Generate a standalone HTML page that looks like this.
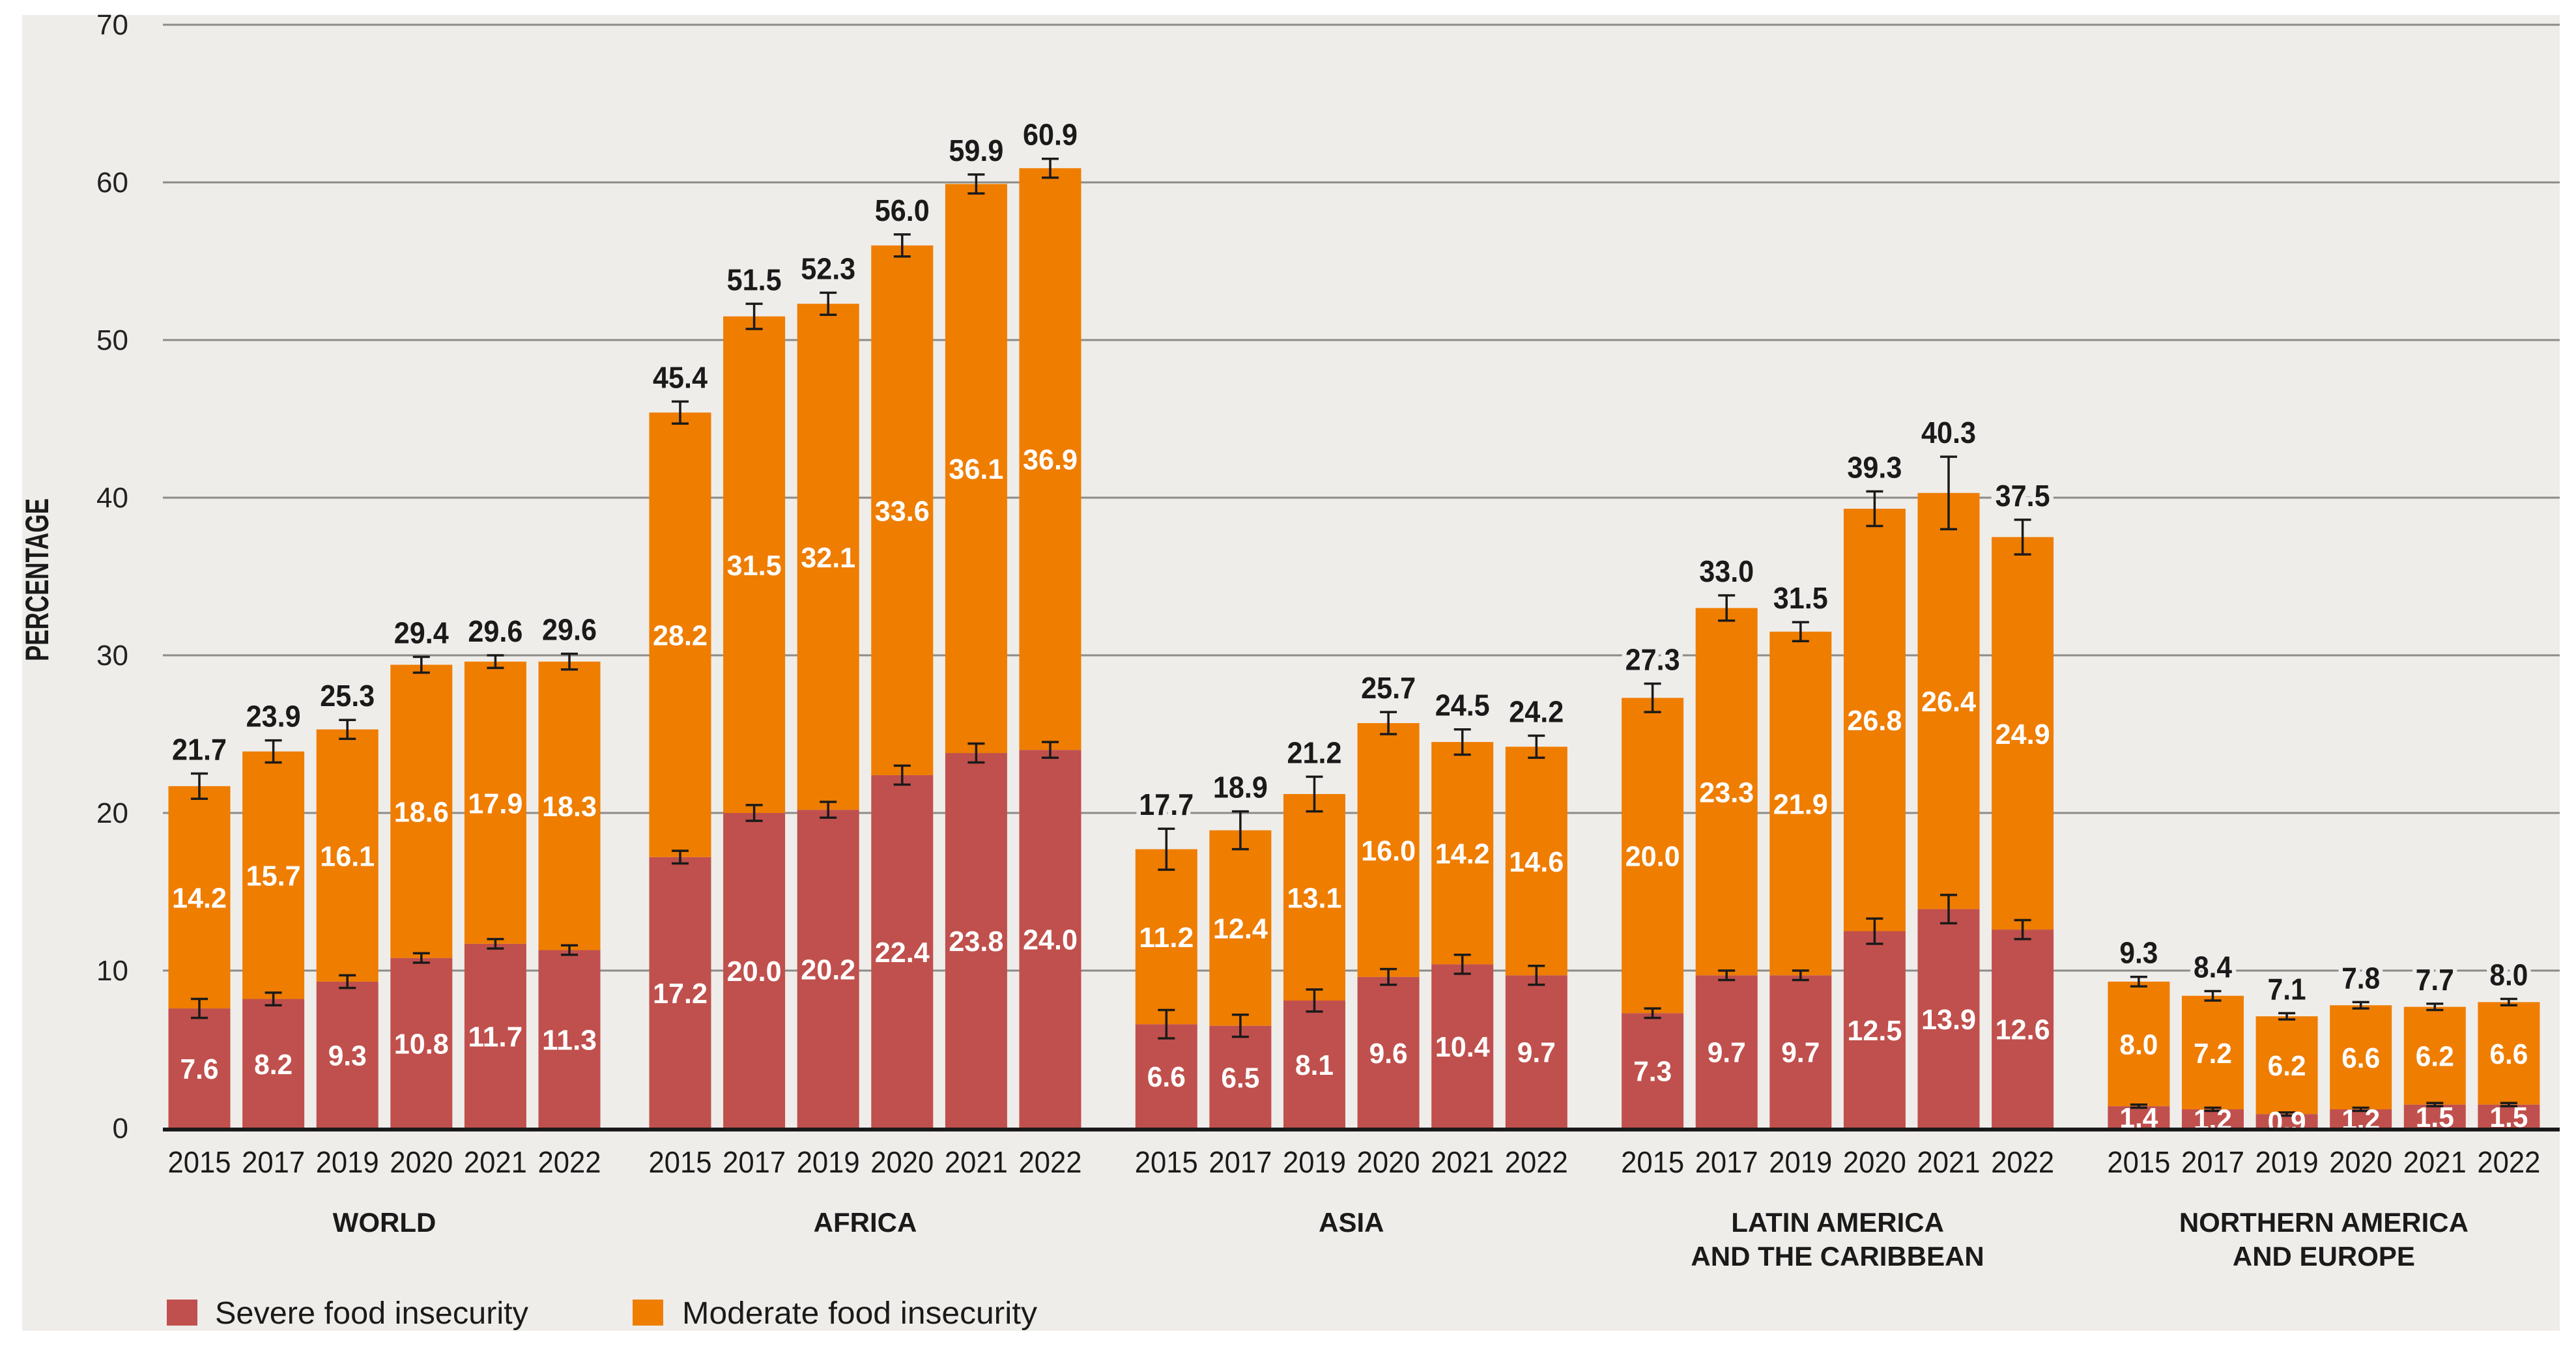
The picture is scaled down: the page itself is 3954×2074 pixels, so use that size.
<!DOCTYPE html>
<html><head><meta charset="utf-8"><style>
html,body{margin:0;padding:0;background:#fff;}
svg{display:block;font-family:"Liberation Sans",sans-serif;}
</style></head><body>
<svg id="chart" width="3954" height="2074" viewBox="0 0 3954 2074" xmlns="http://www.w3.org/2000/svg">
<rect x="34" y="23" width="3895" height="2020" fill="#efedea"/>
<g id="grid"></g><g id="bars"></g><g id="labels"></g>
<text x="0" y="0" transform="translate(74,890) rotate(-90)" text-anchor="middle" font-size="50" font-weight="bold" fill="#1a1a1a" textLength="250" lengthAdjust="spacingAndGlyphs">PERCENTAGE</text>
<rect x="256" y="1995" width="47" height="40" fill="#c0504d"/>
<text x="330" y="2032" font-size="48" fill="#1a1a1a" textLength="481" lengthAdjust="spacingAndGlyphs">Severe food insecurity</text>
<rect x="971" y="1995" width="47" height="40" fill="#ef7d00"/>
<text x="1047" y="2032" font-size="48" fill="#1a1a1a" textLength="545" lengthAdjust="spacingAndGlyphs">Moderate food insecurity</text>
</svg>
<script>
const regions = [["WORLD"],["AFRICA"],["ASIA"],["LATIN AMERICA","AND THE CARIBBEAN"],["NORTHERN AMERICA","AND EUROPE"]];
const years = ["2015","2017","2019","2020","2021","2022"];
const severe = [
 [7.6,8.2,9.3,10.8,11.7,11.3],
 [17.2,20.0,20.2,22.4,23.8,24.0],
 [6.6,6.5,8.1,9.6,10.4,9.7],
 [7.3,9.7,9.7,12.5,13.9,12.6],
 [1.4,1.2,0.9,1.2,1.5,1.5]];
const moderate = [
 [14.2,15.7,16.1,18.6,17.9,18.3],
 [28.2,31.5,32.1,33.6,36.1,36.9],
 [11.2,12.4,13.1,16.0,14.2,14.6],
 [20.0,23.3,21.9,26.8,26.4,24.9],
 [8.0,7.2,6.2,6.6,6.2,6.6]];
const total = [
 [21.7,23.9,25.3,29.4,29.6,29.6],
 [45.4,51.5,52.3,56.0,59.9,60.9],
 [17.7,18.9,21.2,25.7,24.5,24.2],
 [27.3,33.0,31.5,39.3,40.3,37.5],
 [9.3,8.4,7.1,7.8,7.7,8.0]];
const totalErr = [
 [0.8,0.7,0.6,0.5,0.4,0.5],
 [0.7,0.8,0.7,0.7,0.6,0.6],
 [1.3,1.2,1.1,0.7,0.8,0.7],
 [0.9,0.8,0.6,1.1,2.3,1.1],
 [0.3,0.3,0.2,0.2,0.2,0.2]];
const severeErr = [
 [0.6,0.4,0.4,0.3,0.3,0.3],
 [0.4,0.5,0.5,0.6,0.6,0.5],
 [0.9,0.7,0.7,0.5,0.6,0.6],
 [0.3,0.3,0.3,0.8,0.9,0.6],
 [0.1,0.1,0.1,0.1,0.1,0.1]];
const yTicks = [0,10,20,30,40,50,60,70];

const NS="http://www.w3.org/2000/svg";
const y0=1732, pxPer=24.2;
const yScale=v=>y0-v*pxPer;
const groupX=g=>(g===0?306:1044+(g-1)*746.3);
const xScale=(g,i)=>groupX(g)+i*113.6;
const BW=95;
const tlen=s=>(s.length-1)*25+9;
function mk(parent,tag,attrs,text){const e=document.createElementNS(NS,tag);for(const k in attrs)e.setAttribute(k,attrs[k]);if(text!==undefined)e.textContent=text;document.getElementById(parent).appendChild(e);return e;}

yTicks.forEach(t=>{
  if(t>0){const l=mk('grid','line',{x1:250,x2:3929,y1:yScale(t),y2:yScale(t),stroke:'#8c8b87','stroke-width':3});
  
  }
  const tx=mk('grid','text',{x:197,y:yScale(t)+15,'text-anchor':'end','font-size':44,fill:'#222'},String(t));
  
  
});

regions.forEach((r,g)=>{
  years.forEach((yr,i)=>{
    const cx=xScale(g,i);
    const s=mk('bars','rect',{x:cx-BW/2,y:yScale(severe[g][i]),width:BW,height:severe[g][i]*pxPer,fill:'#c0504d'});
    
    
    const m=mk('bars','rect',{x:cx-BW/2,y:yScale(total[g][i]),width:BW,height:(total[g][i]-severe[g][i])*pxPer,fill:'#ef7d00'});
    
    
    [[total[g][i],totalErr[g][i]],[severe[g][i],severeErr[g][i]]].forEach(([v,e],k)=>{
      const yt=yScale(v+e),yb=yScale(v-e);
      const p=mk('labels','path',{d:`M${cx-13} ${yt}H${cx+13}M${cx} ${yt}V${yb}M${cx-13} ${yb}H${cx+13}`,stroke:'#1a1a1a','stroke-width':3.5,fill:'none'});
      
      
    });
    const ts=total[g][i].toFixed(1), ms=moderate[g][i].toFixed(1), ss=severe[g][i].toFixed(1);
    const tl=mk('labels','text',{x:cx,y:yScale(total[g][i]+totalErr[g][i])-21,'text-anchor':'middle','font-size':46,'font-weight':'bold',fill:'#1a1a1a',stroke:'#efedea','stroke-width':14,'paint-order':'stroke',textLength:tlen(ts),lengthAdjust:'spacingAndGlyphs'},ts);
    
    
    const ml=mk('labels','text',{x:cx,y:yScale((total[g][i]+severe[g][i])/2)+16,'text-anchor':'middle','font-size':44,'font-weight':'bold',fill:'#fff',textLength:tlen(ms),lengthAdjust:'spacingAndGlyphs'},ms);
    
    
    const sl=mk('labels','text',{x:cx,y:yScale(severe[g][i]/2)+16,'text-anchor':'middle','font-size':44,'font-weight':'bold',fill:'#fff',textLength:tlen(ss),lengthAdjust:'spacingAndGlyphs'},ss);
    
    
    const yl=mk('labels','text',{x:cx,y:1800,'text-anchor':'middle','font-size':46,fill:'#1a1a1a',textLength:97,lengthAdjust:'spacingAndGlyphs'},yr);
    
    
  });
  const gc=(xScale(g,0)+xScale(g,5))/2;
  r.forEach((line,li)=>{
    const gl=mk('labels','text',{x:gc,y:1891+li*52,'text-anchor':'middle','font-size':42,'font-weight':'bold',fill:'#1a1a1a'},line);
    
    
  });
});
const ax=mk('labels','line',{x1:250,x2:3929,y1:y0+2,y2:y0+2,stroke:'#1a1a1a','stroke-width':6});


</script>
</body></html>
